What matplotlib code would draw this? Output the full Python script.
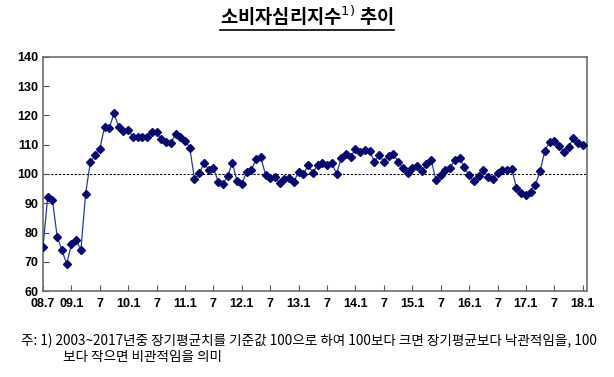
import numpy as np
import matplotlib
matplotlib.use("Agg")
import matplotlib.pyplot as plt
from matplotlib.lines import Line2D

plt.rcParams['font.family'] = ['Noto Sans CJK KR', 'DejaVu Sans']

# monthly consumer sentiment index, 2008.7 ~ 2018.1
csi = [75.0, 92.1, 91.0, 78.6, 74.0, 69.2, 76.0, 77.5, 73.9, 93.2, 104.0, 106.4,
       108.5, 116.1, 115.7, 120.7, 116.1, 114.7, 115.2, 112.7, 112.8, 112.6, 112.5, 114.4,
       114.3, 111.9, 111.1, 110.5, 113.7, 112.7, 111.4, 109.0, 98.2, 100.2, 103.7, 101.5,
       102.1, 97.4, 96.6, 99.2, 103.8, 97.6, 96.5, 100.7, 101.3, 105.1, 105.7, 99.8,
       98.5, 99.0, 96.9, 98.2, 98.5, 97.4, 100.7, 99.9, 103.0, 100.5, 103.0, 103.7,
       103.2, 103.7, 100.1, 105.4, 107.0, 105.9, 108.7, 107.5, 108.2, 108.0, 104.0, 106.6,
       104.1, 106.3, 107.0, 104.1, 102.2, 100.5, 102.1, 102.7, 101.0, 103.4, 104.8, 97.9,
       99.8, 101.3, 102.2, 104.8, 105.4, 102.3, 99.5, 97.5, 99.4, 101.3, 99.0, 98.3,
       100.3, 101.5, 101.4, 101.8, 95.3, 93.4, 92.9, 93.9, 96.4, 100.9, 108.0, 111.0,
       111.2, 109.6, 107.5, 109.2, 112.2, 110.6, 109.9]
xlabels = ['08.7', '09.1', '7', '10.1', '7', '11.1', '7', '12.1', '7', '13.1', '7',
           '14.1', '7', '15.1', '7', '16.1', '7', '17.1', '7', '18.1']
yticks = [60, 70, 80, 90, 100, 110, 120, 130, 140]

x = np.arange(len(csi))

fig = plt.figure(figsize=(6.14, 3.77), dpi=100)
ax = fig.add_axes([0.070, 0.228, 0.886, 0.621])

ax.axhline(100, color='black', lw=0.8, ls=(0, (2, 1.5)), zorder=1)
ax.plot(x, csi, color='#2b3a9a', lw=0.9, marker='D', markersize=4.3,
        markerfacecolor='#0a0a6e', markeredgecolor='#0a0a6e', zorder=3)

ax.set_xlim(0, 114.9)
ax.set_ylim(60, 140)
ax.set_yticks(yticks)
ax.set_yticklabels([str(v) for v in yticks], fontfamily='Liberation Sans',
                   fontweight='bold', fontsize=9)
ax.set_xticks(np.arange(0, len(csi), 6))
ax.set_xticklabels(xlabels, fontfamily='Liberation Sans', fontweight='bold', fontsize=9)
ax.tick_params(direction='in', length=4, width=0.8, colors='#555555', labelcolor='black')
ax.tick_params(axis='x', pad=5)
for s in ax.spines.values():
    s.set_color('#6e6e6e')
    s.set_linewidth(1.2)

title = fig.text(0.5, 0.957, '소비자심리지수$^{1)}$ 추이', ha='center', va='center',
                 fontsize=13.5, fontweight='bold')

fig.text(0.034, 0.0955, '주: 1) 2003~2017년중 장기평균치를 기준값 100으로 하여 100보다 크면 장기평균보다 낙관적임을, 100',
         fontsize=9.8, va='center')
fig.text(0.103, 0.053, '보다 작으면 비관적임을 의미', fontsize=9.8, va='center')

fig.canvas.draw()
bb = title.get_window_extent().transformed(fig.transFigure.inverted())
fig.add_artist(Line2D([bb.x0, bb.x1], [bb.y0 - 0.004, bb.y0 - 0.004],
                      transform=fig.transFigure, color='black', lw=1.2))

fig.savefig('out.png', dpi=100)
